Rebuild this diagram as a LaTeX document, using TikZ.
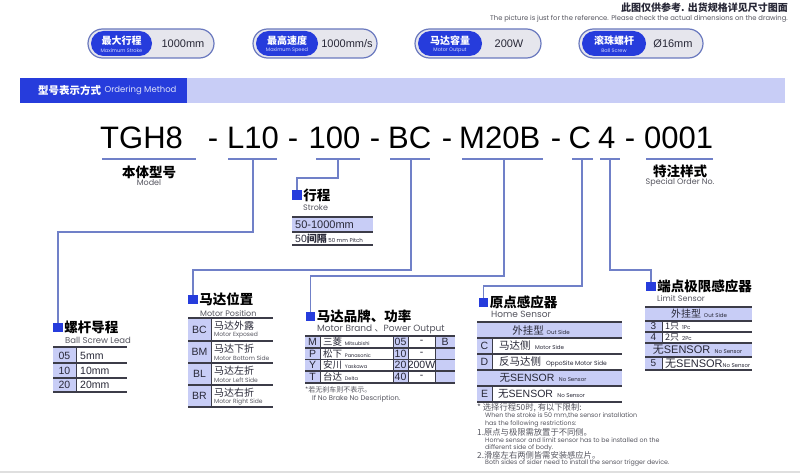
\documentclass[tikz,border=0pt]{standalone}
\usepackage{fontspec}
\setmainfont{Liberation Sans}
\newfontfamily\cjk{Noto Sans CJK SC}
\newfontfamily\geo{Poppins}
\newcommand\fsz[1]{\fontsize{#1}{#1}\selectfont}
\definecolor{royal}{RGB}{38,60,220}
\definecolor{connc}{RGB}{112,128,200}
\definecolor{lav}{RGB}{200,205,246}
\definecolor{rulec}{RGB}{60,60,72}
\definecolor{txt}{RGB}{40,40,55}
\definecolor{subgrey}{RGB}{85,85,95}
\definecolor{pillfill}{RGB}{230,230,237}
\definecolor{pillrim}{RGB}{105,120,190}
\newcommand\mypill[8]{%
  \node[draw=pillrim, fill=pillfill, line width=1.2pt, rounded corners=14.5pt, minimum width={#4-#2}, minimum height=29pt, inner sep=0pt] (#1) at ({(#2+#4)/2},43.5) {};
  \node[fill=royal, rounded corners=12.5pt, minimum width={#3-#2-3}, minimum height=25pt, inner sep=0pt] (#1b) at ({(#2+3+#3)/2},43.5) {};
  \node[inner sep=0pt, font=\cjk\bfseries\fsz{10}, text=white] (#1c) at ({(#2+3+#3)/2},40.5) {#5};
  \node[inner sep=0pt, font=\geo\fsz{5}, text=white!80!royal] (#1e) at ({(#2+3+#3)/2},50.5) {#6};
  \node[inner sep=0pt, font=\fsz{11}, text=txt] (#1v) at (#8,43.5) {#7};
}
\begin{document}
\begin{tikzpicture}[x=1pt,y=-1pt,
  conn/.style={draw=connc, line width=1.5pt},
  uline/.style={draw=connc, line width=1.5pt},
  sq/.style={fill=royal, minimum size=9.5pt, inner sep=0pt, outer sep=0pt},
  ttl/.style={anchor=west, inner sep=0pt, font=\cjk\bfseries\fsz{13.5}, text=black},
  sub/.style={anchor=west, inner sep=0pt, font=\geo\fsz{8}, text=subgrey},
  code/.style={anchor=base west, inner sep=0pt, font=\fsz{31}, text=black},
  codeh/.style={anchor=base, inner sep=0pt, font=\fsz{31}, text=black},
  rowline/.style={draw=rulec, line width=1.6pt},
  vline/.style={draw=rulec, line width=0.8pt},
  key/.style={inner sep=0pt, font=\fsz{10.5}, text=txt},
  val/.style={anchor=west, inner sep=0pt, font=\fsz{10.5}, text=txt},
  cn/.style={anchor=west, inner sep=0pt, font=\cjk\fsz{10}, text=txt},
  en/.style={anchor=west, inner sep=0pt, font=\geo\fsz{6}, text=subgrey},
  fncn/.style={anchor=west, inner sep=0pt, font=\cjk\fsz{8.3}, text=subgrey},
  fnen/.style={anchor=west, inner sep=0pt, font=\geo\fsz{6.3}, text=subgrey}
]
\useasboundingbox (0,0) rectangle (800,476);
\fill[white] (0,0) rectangle (800,476);

% top note
\node[anchor=base east, inner sep=0pt, font=\cjk\bfseries\fsz{10}, text=txt] (noteCN) at (788,11.5) {此图仅供参考. 出货规格详见尺寸图面};
\node[anchor=base east, inner sep=0pt, font=\geo\fsz{6.8}, text=subgrey] (noteEN) at (788,21) {The picture is just for the reference. Please check the actual dimensions on the drawing.};

% pills
\mypill{p1}{88}{152}{214}{最大行程}{Maximum Stroke}{1000mm}{183}
\mypill{p2}{253}{318}{377}{最高速度}{Maximum Speed}{1000mm/s}{347}
\mypill{p3}{415}{482}{541}{马达容量}{Motor Output}{200W}{509}
\mypill{p4}{579}{646}{703}{滚珠螺杆}{Ball Screw}{Ø16mm}{673}

% banner
\node[fill=royal, minimum width=167pt, minimum height=25pt, inner sep=0pt, anchor=north west] (bannerL) at (20,78) {};
\node[fill=lav, minimum width=598pt, minimum height=25pt, inner sep=0pt, anchor=north west] (bannerR) at (187,78) {};
\node[anchor=west, inner sep=0pt, font=\cjk\bfseries\fsz{10.5}, text=white] (bannerCN) at (38,90.5) {型号表示方式};
\node[anchor=west, inner sep=0pt, font=\geo\fsz{8.5}, text=white!85!royal] (bannerEN) at ([xshift=3pt]bannerCN.east) {Ordering Method};

% code line
\node[code] (cTGH) at (100,149) {TGH8};
\node[codeh] (d1) at (213,149) {-};
\node[code] (cL) at (227,149) {L10};
\node[codeh] (d2) at (293,149) {-};
\node[code] (c100) at (308.5,149) {100};
\node[codeh] (d3) at (375,149) {-};
\node[code] (cBC) at (388,149) {BC};
\node[codeh] (d4) at (447,149) {-};
\node[code] (cM) at (459,149) {M20B};
\node[codeh] (d5) at (556,149) {-};
\node[code] (cC) at (568.5,149) {C};
\node[code] (c4) at (598,149) {4};
\node[codeh] (d6) at (630,149) {-};
\node[code] (c0) at (644,149) {0001};

% underlines
\draw[uline] (102,159) -- (196,159);
\draw[uline] (228,159) -- (277,159);
\draw[uline] (316,159) -- (360,159);
\draw[uline] (390,159) -- (430,159);
\draw[uline] (462,159) -- (543,159);
\draw[uline] (572,159) -- (593,159);
\draw[uline] (600,159) -- (620,159);
\draw[uline] (646,159) -- (713,159);
\coordinate (uL10) at (253,159);
\coordinate (u100) at (338,159);
\coordinate (uBC) at (411,159);
\coordinate (uM) at (504,159);
\coordinate (uC) at (582,159);
\coordinate (u4) at (610,159);

% model / special
\node[inner sep=0pt, font=\cjk\bfseries\fsz{13.5}] (tModel) at (149,172) {本体型号};
\node[inner sep=0pt, font=\geo\fsz{8}, text=subgrey] (eModel) at (149,183) {Model};
\node[inner sep=0pt, font=\cjk\bfseries\fsz{13.5}] (tSpec) at (680,171) {特注样式};
\node[inner sep=0pt, font=\geo\fsz{8}, text=subgrey] (eSpec) at (680,182) {Special Order No.};

% squares and titles
\node[sq] (sqLead) at (58,327.5) {};
\node[ttl] (tLead) at ([xshift=1.5pt]sqLead.east) {螺杆导程};
\node[sub, font=\geo\fsz{8.5}] (eLead) at (65,340) {Ball Screw Lead};

\node[sq] (sqStroke) at (297,195) {};
\node[ttl] (tStroke) at ([xshift=1.5pt]sqStroke.east) {行程};
\node[sub] (eStroke) at (303,208) {Stroke};

\node[sq] (sqPos) at (193,299.5) {};
\node[ttl] (tPos) at ([xshift=1.5pt]sqPos.east) {马达位置};
\node[sub] (ePos) at (200,313) {Motor Position};

\node[sq] (sqBrand) at (310.5,316.5) {};
\node[ttl] (tBrand) at ([xshift=1.5pt]sqBrand.east) {马达品牌、功率};
\node[sub, font=\geo\fsz{9}] (eBrand) at (317,329) {Motor Brand {\cjk 、}Power Output};

\node[sq] (sqHome) at (483.5,302.5) {};
\node[ttl] (tHome) at ([xshift=1.5pt]sqHome.east) {原点感应器};
\node[sub, font=\geo\fsz{9}] (eHome) at (491,314) {Home Sensor};

\node[sq] (sqLimit) at (651,286.5) {};
\node[ttl] (tLimit) at ([xshift=1.5pt]sqLimit.east) {端点极限感应器};
\node[sub] (eLimit) at (657,298) {Limit Sensor};

% connectors
\draw[conn] (uL10) -- ++(0,73) -| (sqLead.north);
\draw[conn] (u100) -- ++(0,19) -| (sqStroke.north);
\draw[conn] (uBC) -- ++(0,111) -| (sqPos.north);
\draw[conn] (uM) -- ++(0,117) -| (sqBrand.north);
\draw[conn] (uC) -- ++(0,127) -| (sqHome.north);
\draw[conn] (u4) -- ++(0,111) -| (sqLimit.north);

% stroke table
\fill[lav] (292,217) rectangle (373,232);
\foreach \y in {217,232,245} \draw[rowline] (292,\y) -- (373,\y);
\node[val, font=\fsz{11}] (s1) at (295,224.5) {50-1000mm};
\node[val] (s2) at (295,238.5) {50{\cjk\bfseries\fsz{10}间隔}{\geo\fsz{5.5} 50 mm Pitch}};

% ball screw lead table
\fill[lav] (53,347) rectangle (76,392);
\foreach \y in {347,363,378,392} \draw[rowline] (53,\y) -- (127,\y);
\draw[vline] (76,347) -- (76,392);
\node[key] (k05) at (64.5,355.5) {05};
\node[val] (v05) at (80,355.5) {5mm};
\node[key] (k10) at (64.5,370.5) {10};
\node[val] (v10) at (80,370.5) {10mm};
\node[key] (k20) at (64.5,385) {20};
\node[val] (v20) at (80,385) {20mm};

% motor position table
\fill[lav] (188,318) rectangle (211,407);
\foreach \y in {318,341,363,385,407} \draw[rowline] (188,\y) -- (273,\y);
\draw[vline] (211,318) -- (211,407);
\node[key] (kBC) at (199.5,329.5) {BC};
\node[cn] (cnBC) at (214,326) {马达外露};
\node[en] (enBC) at (214,335.5) {Motor Exposed};
\node[key] (kBM) at (199.5,352) {BM};
\node[cn] (cnBM) at (214,348.5) {马达下折};
\node[en] (enBM) at (214,358) {Motor Bottom Side};
\node[key] (kBL) at (199.5,374) {BL};
\node[cn] (cnBL) at (214,370.5) {马达左折};
\node[en] (enBL) at (214,380) {Motor Left Side};
\node[key] (kBR) at (199.5,396) {BR};
\node[cn] (cnBR) at (214,392.5) {马达右折};
\node[en] (enBR) at (214,402) {Motor Right Side};

% motor brand table
\fill[lav] (305,336) rectangle (320,383);
\fill[lav] (393,336) rectangle (408,383);
\fill[lav] (435,336) rectangle (455,383);
\foreach \y in {336,348,359.5,371,383} \draw[rowline] (305,\y) -- (455,\y);
\foreach \x in {320,393,408,435} \draw[vline] (\x,336) -- (\x,383);
\node[key] (kM) at (312.5,342) {M};
\node[cn, font=\cjk\fsz{9.5}] (nM) at (323,342) {三菱{\geo\fsz{5} \ Mitsubishi}};
\node[key] (n05) at (400.5,342) {05};
\node[key] (pM) at (421.5,342) {-};
\node[key] (bM) at (445,342) {B};
\node[key] (kP) at (312.5,353.75) {P};
\node[cn, font=\cjk\fsz{9.5}] (nP) at (323,353.75) {松下{\geo\fsz{5} \ Panasonic}};
\node[key] (n10) at (400.5,353.75) {10};
\node[key] (pP) at (421.5,353.75) {-};
\node[key] (kY) at (312.5,365.25) {Y};
\node[cn, font=\cjk\fsz{9.5}] (nY) at (323,365.25) {安川{\geo\fsz{5} \ Yaskawa}};
\node[key] (n20) at (400.5,365.25) {20};
\node[key] (pY) at (421.5,365.25) {200W};
\node[key] (kT) at (312.5,377) {T};
\node[cn, font=\cjk\fsz{9.5}] (nT) at (323,377) {台达{\geo\fsz{5} \ Delta}};
\node[key] (n40) at (400.5,377) {40};
\node[key] (pT) at (421.5,377) {-};
\node[fncn, font=\cjk\fsz{7}] (fnB1) at (305,389.5) {*若无刹车则不表示。};
\node[fnen, font=\geo\fsz{6.8}] (fnB2) at (312,399) {If No Brake No Description.};

% home sensor table
\fill[lav] (477,322) rectangle (622,338);
\fill[lav] (477,338) rectangle (492,370);
\fill[lav] (477,370) rectangle (622,386);
\fill[lav] (477,386) rectangle (492,402);
\foreach \y in {322,338,354,370,386,402} \draw[rowline] (477,\y) -- (622,\y);
\draw[vline] (492,338) -- (492,370);
\draw[vline] (492,386) -- (492,402);
\node[inner sep=0pt, font=\cjk\fsz{10.5}, text=txt] (hHead) at (541,330) {外挂型{\geo\fsz{5.5} \ Out Side}};
\node[key] (kCh) at (484.5,346) {C};
\node[cn, font=\cjk\fsz{10.5}] (vC) at (499,346) {马达侧{\geo\fsz{5.5} \ \ Motor Side}};
\node[key] (kDh) at (484.5,362) {D};
\node[cn, font=\cjk\fsz{10.5}] (vD) at (499,362) {反马达侧{\geo\fsz{6} \ \ OppoSite Motor Side}};
\node[inner sep=0pt, font=\cjk\fsz{10.5}, text=txt] (hNo) at (543,378) {无{\fontspec{Liberation Sans}SENSOR}{\geo\fsz{5.5} \ \ No Sensor}};
\node[key] (kEh) at (484.5,394) {E};
\node[cn, font=\cjk\fsz{10.5}] (vE) at (498,394) {无{\fontspec{Liberation Sans}SENSOR}{\geo\fsz{5.5} \ \ No Sensor}};

% footnotes home sensor
\node[fncn] (fn1) at (477,407.5) {* 选择行程50时, 有以下限制:};
\node[fnen] (fn2) at (485,416) {When the stroke is 50 mm,the sensor installation};
\node[fnen] (fn3) at (485,424) {has the following restrictions:};
\node[fncn] (fn4) at (477,432) {1.原点与极限需放置于不同侧。};
\node[fnen] (fn5) at (485,440) {Home sensor and limit sensor has to be installed on the};
\node[fnen] (fn6) at (485,447.5) {different side of body.};
\node[fncn] (fn7) at (477,455) {2.滑座左右两侧皆需安装感应片。};
\node[fnen] (fn8) at (485,462.5) {Both sides of sider need to install the sensor trigger device.};

% limit sensor table
\fill[lav] (645,307) rectangle (752,321);
\fill[lav] (645,321) rectangle (662,343);
\fill[lav] (645,343) rectangle (752,357);
\fill[lav] (645,357) rectangle (662,370);
\foreach \y in {307,321,332,343,357,370} \draw[rowline] (645,\y) -- (752,\y);
\draw[vline] (662,321) -- (662,343);
\draw[vline] (662,357) -- (662,370);
\node[inner sep=0pt, font=\cjk\fsz{10}, text=txt] (lHead) at (699,314) {外挂型{\geo\fsz{5.5} \ Out Side}};
\node[key, font=\fsz{10}] (k3) at (653.5,326.5) {3};
\node[cn, font=\cjk\fsz{9}] (v3) at (665,326.5) {1只{\geo\fsz{5.5} \ 1Pc}};
\node[key, font=\fsz{10}] (k4) at (653.5,337.5) {4};
\node[cn, font=\cjk\fsz{9}] (v4) at (665,337.5) {2只{\geo\fsz{5.5} \ 2Pc}};
\node[inner sep=0pt, font=\cjk\fsz{11}, text=txt] (lNo) at (697.5,350) {无{\fontspec{Liberation Sans}SENSOR}{\geo\fsz{5.5} \ \ No Sensor}};
\node[key, font=\fsz{10}] (k5) at (653.5,363.5) {5};
\node[cn, font=\cjk\fsz{11}] (v5) at (665,363.5) {无{\fontspec{Liberation Sans}SENSOR}{\geo\fsz{5.5}No Sensor}};

% bottom rule
\draw[gray!25, line width=1.5pt] (0,472) -- (800,472);
\end{tikzpicture}
\end{document}
